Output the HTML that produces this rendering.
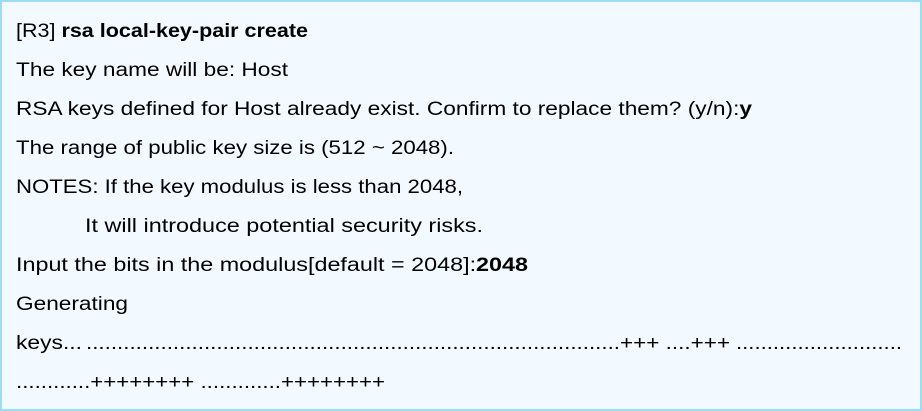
<!DOCTYPE html>
<html><head><meta charset="utf-8"><style>
html,body{margin:0;padding:0;background:#fff}
svg{display:block}
text{font-family:"Liberation Sans",sans-serif;font-size:19px;fill:#000}
</style></head><body>
<svg width="922" height="411" xmlns="http://www.w3.org/2000/svg">
<rect x="1" y="1" width="920" height="409" fill="#f3faff" stroke="#9ddcf5" stroke-width="2"/>
<text x="16" y="37" textLength="292" lengthAdjust="spacingAndGlyphs">[R3] <tspan font-weight="bold">rsa local-key-pair create</tspan></text>
<text x="16" y="76" textLength="272" lengthAdjust="spacingAndGlyphs">The key name will be: Host</text>
<text x="16" y="115" textLength="736" lengthAdjust="spacingAndGlyphs">RSA keys defined for Host already exist. Confirm to replace them? (y/n):<tspan font-weight="bold">y</tspan></text>
<text x="16" y="154" textLength="438" lengthAdjust="spacingAndGlyphs">The range of public key size is (512 ~ 2048).</text>
<text x="16" y="193" textLength="447" lengthAdjust="spacingAndGlyphs">NOTES: If the key modulus is less than 2048,</text>
<text x="85" y="232" textLength="398" lengthAdjust="spacingAndGlyphs">It will introduce potential security risks.</text>
<text x="16" y="271" textLength="512" lengthAdjust="spacingAndGlyphs">Input the bits in the modulus[default = 2048]:<tspan font-weight="bold">2048</tspan></text>
<text x="16" y="310" textLength="112" lengthAdjust="spacingAndGlyphs">Generating</text>
<text x="16" y="349" textLength="66" lengthAdjust="spacingAndGlyphs">keys...</text>
<text x="86" y="349" textLength="534" lengthAdjust="spacingAndGlyphs" font-size="21">......................................................................................</text>
<text x="620" y="349" textLength="110" lengthAdjust="spacingAndGlyphs">+++ ....+++</text>
<text x="736" y="349" textLength="166" lengthAdjust="spacingAndGlyphs" font-size="21">...........................</text>
<text x="16" y="388" textLength="369" lengthAdjust="spacingAndGlyphs">............++++++++ .............++++++++</text>
</svg>
</body></html>
